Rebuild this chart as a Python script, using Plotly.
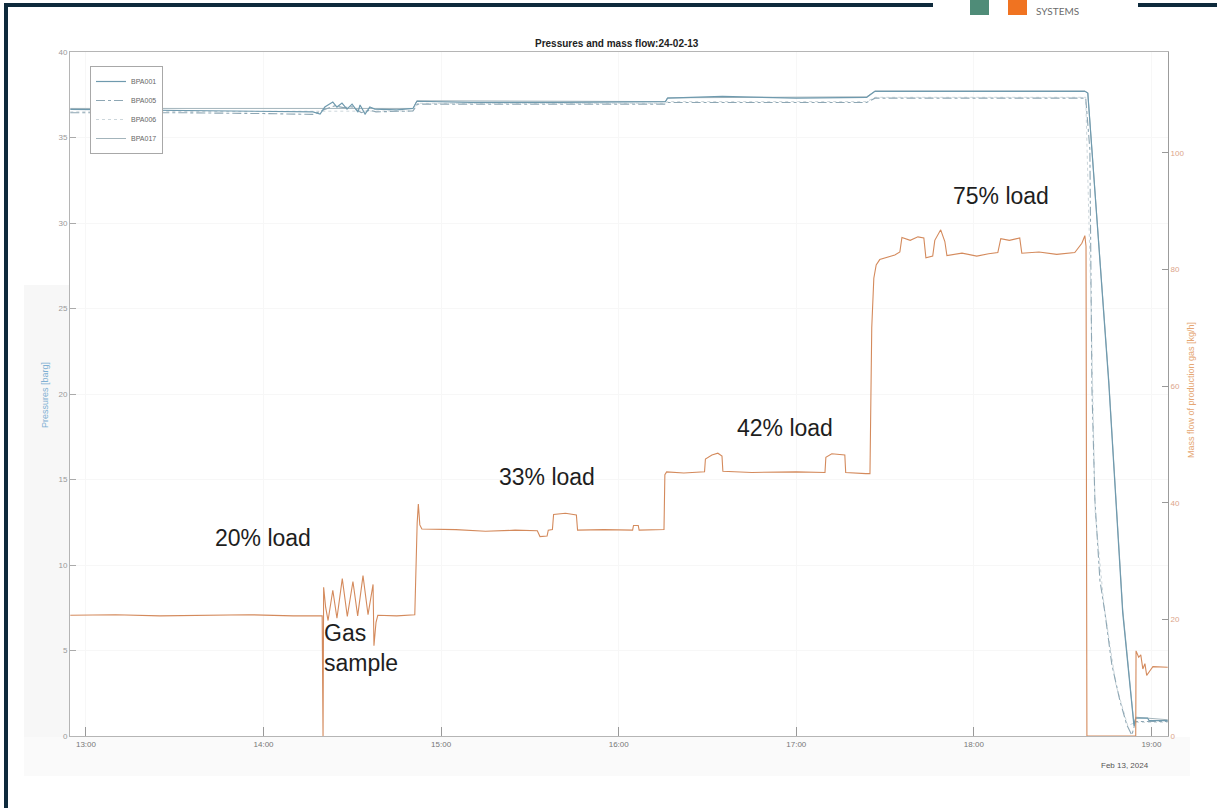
import pandas as pd
import plotly.graph_objects as go

DAY = "2024-02-13"
T0 = pd.Timestamp(f"{DAY} 13:00")

# Mass flow of production gas [kg/h]; time as minutes after 13:00
flow_min = [-5.3, 10, 25, 40, 55, 70, 79.8, 80.1, 80.3, 81.0, 81.8, 83.4, 84.8, 86.6, 88.3,
            90.2, 91.8, 93.6, 95.3, 97.0, 97.3, 98.0, 98.6, 105, 111.1, 111.9, 112.3, 112.8,
            113.5, 125, 135, 145, 152.5, 153.4, 155.8, 156.2, 157.6, 158.0, 162, 165.7, 166.1,
            175, 184.7, 185.0, 186.6, 186.9, 195.3, 195.6, 196.2, 202, 209.0, 209.3, 211.5,
            213.5, 214.9, 215.2, 225, 240, 249.7, 250.0, 252.0, 256.4, 256.7, 263.5, 264.9,
            265.5, 266.2, 267.0, 268.2, 273.3, 275.0, 275.7, 278.5, 281.1, 283.1, 283.8, 286.1,
            286.8, 288.8, 290.2, 290.9, 296, 301, 305, 308.1, 309.1, 312, 315.5, 316.2, 322,
            328, 334.1, 336.5, 337.5, 337.9, 338.2, 354.7, 354.8, 355.7, 356.4, 357.1, 357.8,
            358.4, 359.5, 360.5, 365.5]
flow_kgh = [20.7, 20.8, 20.6, 20.7, 20.8, 20.6, 20.6, 0.0, 25.5, 22.0, 19.8, 25.0, 20.2, 27.0,
            20.5, 26.5, 20.6, 27.5, 20.8, 26.0, 15.5, 19.5, 20.7, 20.6, 20.8, 36.5, 39.8, 36.2,
            35.5, 35.4, 35.1, 35.3, 35.2, 34.2, 34.3, 35.3, 35.4, 38.0, 38.2, 37.9, 35.3, 35.4,
            35.3, 36.1, 36.1, 35.3, 35.4, 44.8, 45.3, 45.1, 45.3, 47.5, 48.2, 48.5, 48.0, 45.4,
            45.2, 45.3, 45.2, 47.8, 48.4, 48.2, 45.2, 45.0, 45.0, 70.0, 78.5, 80.8, 81.7, 82.5,
            83.0, 85.5, 85.0, 85.6, 85.4, 82.0, 82.3, 85.0, 86.8, 84.8, 82.4, 82.8, 82.3, 82.7,
            82.9, 85.3, 85.0, 85.4, 82.8, 83.0, 82.6, 82.9, 84.5, 85.8, 84.0, 0.0, 0.0, 14.6,
            13.5, 13.9, 11.5, 12.4, 10.4, 11.2, 11.9, 11.8]

# Pressures [barg]
bpa001_min = [-5.3, 20, 45, 76.7, 79.1, 80.7, 83.4, 84.8, 86.5, 88.2, 89.9, 91.9, 92.6, 94.3,
              95.9, 97.6, 105, 110.5, 111.8, 130, 160, 195.8, 196.5, 215, 240, 263.8, 266.6,
              300, 337.5, 338.5, 345.6, 350.3, 353.4, 354.1, 354.7, 358.7, 359.2, 365.5]
bpa001_barg = [36.65, 36.6, 36.55, 36.5, 36.37, 36.78, 37.07, 36.78, 37.01, 36.66, 36.95, 36.48,
               36.9, 36.37, 36.78, 36.66, 36.62, 36.7, 37.12, 37.05, 37.05, 37.1, 37.3, 37.4,
               37.3, 37.35, 37.7, 37.7, 37.7, 37.6, 20.6, 7.2, 1.5, 0.6, 1.05, 1.05, 0.9, 0.9]

bpa005_min = [-5.3, 30, 60, 77, 80, 84, 87, 90, 93, 96, 98, 110.5, 112, 150, 195.8, 196.5, 240,
              263.8, 266.6, 310, 337.8, 339.2, 339.9, 340.9, 342.6, 344.3, 346.6, 349.3, 351.7,
              353.4, 354.6, 365.5]
bpa005_barg = [36.45, 36.45, 36.4, 36.35, 36.6, 36.85, 36.75, 36.8, 36.45, 36.6, 36.5, 36.55,
               36.95, 36.95, 36.95, 37.05, 37.05, 37.05, 37.3, 37.3, 37.3, 34.3, 20.3, 13.8, 9.1,
               7.2, 4.2, 2.1, 0.64, 0.05, 0.85, 0.85]

bpa006_min = [-5.3, 110.5, 112, 195.8, 196.5, 263.8, 266.6, 337.8, 339.5, 341, 344, 348, 352,
              354.6, 365.5]
bpa006_barg = [36.5, 36.55, 37.0, 37.0, 37.1, 37.1, 37.35, 37.35, 26.0, 13.0, 7.6, 3.0, 0.6,
               0.8, 0.8]

bpa017_min = [-5.3, 110.5, 111.8, 195.8, 196.5, 263.8, 266.6, 337.5, 338.5, 345.6, 350.3, 354.1,
              354.7, 365.5]
bpa017_barg = [36.7, 36.7, 37.15, 37.1, 37.32, 37.38, 37.72, 37.72, 37.6, 20.8, 7.4, 0.7, 1.1,
               0.95]

load_labels = ["20% load", "33% load", "42% load", "75% load"]
load_label_min = [59.8, 155.7, 236.2, 309.2]
load_label_kgh = [34.0, 44.5, 52.9, 92.6]

pressure_ticks = [0, 5, 10, 15, 20, 25, 30, 35, 40]
flow_ticks = [0, 20, 40, 60, 80, 100]
hour_ticks = ["13:00", "14:00", "15:00", "16:00", "17:00", "18:00", "19:00"]


def to_time(minutes):
    return T0 + pd.to_timedelta(minutes, unit="min")


# page geometry (pixels) of the axes box
W, H = 1217, 808
AX_L, AX_R, AX_T, AX_B = 70, 1168, 52, 736


def px(x):
    return (x - AX_L) / (AX_R - AX_L)


def py(y):
    return (AX_B - y) / (AX_B - AX_T)


FONT = "Liberation Sans, Arial, sans-serif"

fig = go.Figure()

fig.add_trace(go.Scatter(x=to_time(flow_min), y=flow_kgh, yaxis="y2", mode="lines",
                         line=dict(color="#d48a5c", width=1.1), showlegend=False,
                         name="Mass flow"))
fig.add_trace(go.Scatter(x=to_time(bpa006_min), y=bpa006_barg, mode="lines", name="BPA006",
                         legendrank=3, line=dict(color="#ccd6db", width=1, dash="dot")))
fig.add_trace(go.Scatter(x=to_time(bpa017_min), y=bpa017_barg, mode="lines", name="BPA017",
                         legendrank=4, line=dict(color="#a3b4bb", width=1)))
fig.add_trace(go.Scatter(x=to_time(bpa005_min), y=bpa005_barg, mode="lines", name="BPA005",
                         legendrank=2,
                         line=dict(color="#8ea7b4", width=1.1, dash="dashdot")))
fig.add_trace(go.Scatter(x=to_time(bpa001_min), y=bpa001_barg, mode="lines", name="BPA001",
                         legendrank=1, line=dict(color="#6f9aae", width=1.2)))

tick_times = [pd.Timestamp(f"{DAY} {h}") for h in hour_ticks]

fig.update_layout(
    width=W, height=H, autosize=False,
    margin=dict(l=AX_L, r=W - AX_R, t=AX_T, b=H - AX_B),
    paper_bgcolor="white", plot_bgcolor="white",
    font=dict(family=FONT, color="#555"),
    xaxis=dict(
        type="date", range=[to_time(-5.4), to_time(365.6)],
        tickvals=tick_times, ticktext=hour_ticks,
        ticks="inside", ticklen=9, tickcolor="#999", tickwidth=1,
        showline=True, linecolor="#b5b5b5", linewidth=1, mirror=True,
        showgrid=True, gridcolor="#f7f7f7", zeroline=False,
        tickfont=dict(size=8, color="#777"),
    ),
    yaxis=dict(
        range=[0, 40], tickvals=pressure_ticks,
        ticks="inside", ticklen=6, tickcolor="#aaa",
        showline=True, linecolor="#b5b5b5", linewidth=1,
        showgrid=True, gridcolor="#f7f7f7", zeroline=False,
        tickfont=dict(size=8, color="#999"),
    ),
    yaxis2=dict(
        range=[0, 117.3], tickvals=flow_ticks, overlaying="y", side="right",
        ticks="inside", ticklen=6, tickcolor="#999",
        showline=True, linecolor="#9c9c9c", linewidth=1,
        showgrid=False, zeroline=False,
        tickfont=dict(size=8, color="#dca58a"),
    ),
    legend=dict(
        x=px(90), y=py(66), xanchor="left", yanchor="top",
        bgcolor="white", bordercolor="#a8a8a8", borderwidth=1,
        font=dict(size=7, color="#666"), traceorder="normal",
        itemwidth=30, tracegroupgap=0,
    ),
)


def note(text, x, y, size, color, **kw):
    d = dict(text=text, x=px(x), y=py(y), xref="paper", yref="paper", showarrow=False,
             xanchor="center", yanchor="middle", font=dict(size=size, color=color))
    d.update(kw)
    return d


annotations = [
    note("<b>Pressures and mass flow:24-02-13</b>", 617, 43, 10, "#222"),
    note("Pressures [barg]", 45, 395, 9, "#7fb0d3", textangle=-90),
    note("Mass flow of production gas [kg/h]", 1191, 390, 9, "#e5a672", textangle=-90),
    note("Feb 13, 2024", 1125, 766, 8, "#555"),
    note("Gas<br>sample", 322, 648, 23, "#1e1e1e", xanchor="left", align="left"),
    note("SYSTEMS", 1034, 11, 10, "#6b6b6b", xanchor="left"),
]
annotations[-1]["font"]["family"] = "Lato, sans-serif"
for label, m, v in zip(load_labels, load_label_min, load_label_kgh):
    annotations.append(dict(text=label, x=to_time(m), y=v, xref="x", yref="y2",
                            xanchor="center", yanchor="middle", showarrow=False,
                            font=dict(size=23, color="#1e1e1e")))
fig.update_layout(annotations=annotations)

NAVY = "#0e2a3c"
shapes = [
    # light panel behind the left axis labels
    dict(type="rect", xref="paper", yref="paper", x0=px(24), x1=px(69), y0=py(776), y1=py(285),
         fillcolor="#f7f7f7", line=dict(width=0), layer="below"),
    dict(type="rect", xref="paper", yref="paper", x0=px(24), x1=px(1190), y0=py(776),
         y1=py(737), fillcolor="#fafafa", line=dict(width=0), layer="below"),
    # page frame
    dict(type="line", xref="paper", yref="paper", x0=px(6), x1=px(6), y0=py(810), y1=py(3),
         line=dict(color=NAVY, width=4)),
    dict(type="line", xref="paper", yref="paper", x0=px(4), x1=px(1220), y0=py(5), y1=py(5),
         line=dict(color=NAVY, width=4)),
    # logo block
    dict(type="rect", xref="paper", yref="paper", x0=px(933), x1=px(1138), y0=py(16),
         y1=py(-2), fillcolor="white", line=dict(width=0)),
    dict(type="rect", xref="paper", yref="paper", x0=px(970), x1=px(989), y0=py(15),
         y1=py(-2), fillcolor="#4f8c78", line=dict(width=0)),
    dict(type="rect", xref="paper", yref="paper", x0=px(1008), x1=px(1027), y0=py(15),
         y1=py(-2), fillcolor="#f07321", line=dict(width=0)),
]
fig.update_layout(shapes=shapes)

fig.write_html("out.html")
